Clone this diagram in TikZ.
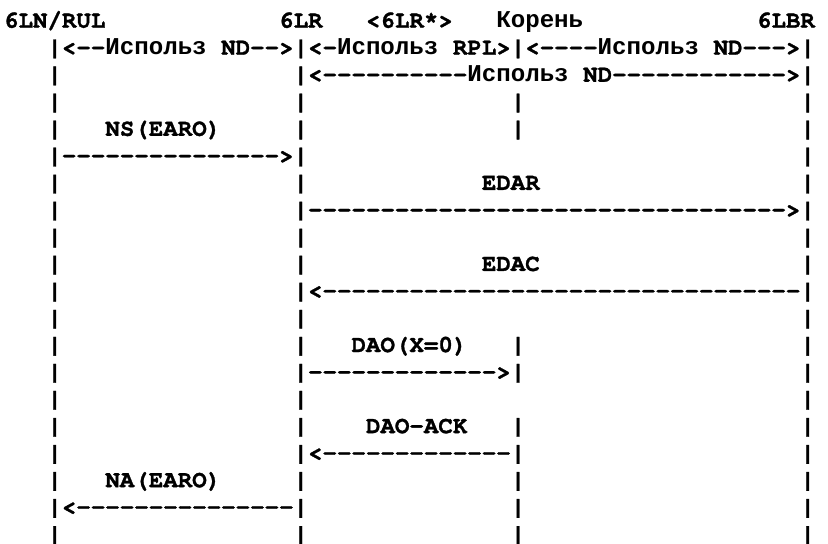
\documentclass[tikz,border=0pt]{standalone}
\usepackage{fontspec}
\newfontfamily\asciifont{TeX Gyre Cursor}[BoldFeatures={FakeBold=1.2}]
\newfontfamily\cyrfont{Liberation Mono}
\ExplSyntaxOn
\cs_new:Npn \dashrun #1 { \prg_replicate:nn {#1} {-} }
\ExplSyntaxOff
% Cyrillic words, set in a monospace face that has them
\newcommand\ru[1]{{\cyrfont\bfseries #1}}
% one text cell of the monospace grid: row, column, text
\newcommand\putcell[3]{\node[txt] (r#1c#2) at ({4+#2*14.48},{27.7+(#1-1)*27.03}) {#3};}
% a lifeline bar in a given row and column
\newcommand\lifebar[2]{\putcell{#1}{#2}{|}}
\begin{document}
\begin{tikzpicture}[x=0.75pt,y=-0.75pt,
  txt/.style={anchor=base west, inner sep=0pt, outer sep=0pt,
    font=\asciifont\bfseries\fontsize{18.1pt}{20pt}\selectfont}]
\fill[white] (0,0) rectangle (828,543);
\useasboundingbox (0,0) rectangle (828,543);

% header with the node names
\putcell{1}{0}{6LN/RUL}
\putcell{1}{19}{6LR}
\putcell{1}{25}{<6LR*>}
\putcell{1}{34}{\ru{Корень}}
\putcell{1}{52}{6LBR}

% scopes of the protocols
\putcell{2}{3}{|<--\ru{Использ} ND-->|<-\ru{Использ} RPL>|<----\ru{Использ} ND--->|}
\lifebar{3}{3}
\putcell{3}{20}{|<\dashrun{10}\ru{Использ} ND\dashrun{12}>|}

\lifebar{4}{3}\lifebar{4}{20}\lifebar{4}{35}\lifebar{4}{55}

% NS(EARO)
\lifebar{5}{3}\putcell{5}{7}{NS(EARO)}\lifebar{5}{20}\lifebar{5}{35}\lifebar{5}{55}
\putcell{6}{3}{|\dashrun{15}>|}\lifebar{6}{55}

% EDAR
\lifebar{7}{3}\lifebar{7}{20}\putcell{7}{33}{EDAR}\lifebar{7}{55}
\lifebar{8}{3}\putcell{8}{20}{|\dashrun{33}>|}
\lifebar{9}{3}\lifebar{9}{20}\lifebar{9}{55}

% EDAC
\lifebar{10}{3}\lifebar{10}{20}\putcell{10}{33}{EDAC}\lifebar{10}{55}
\lifebar{11}{3}\putcell{11}{20}{|<\dashrun{33}|}
\lifebar{12}{3}\lifebar{12}{20}\lifebar{12}{55}

% DAO(X=0)
\lifebar{13}{3}\lifebar{13}{20}\putcell{13}{24}{DAO(X=0)}\lifebar{13}{35}\lifebar{13}{55}
\lifebar{14}{3}\putcell{14}{20}{|\dashrun{13}>|}\lifebar{14}{55}
\lifebar{15}{3}\lifebar{15}{20}\lifebar{15}{55}

% DAO-ACK
\lifebar{16}{3}\lifebar{16}{20}\putcell{16}{25}{DAO-ACK}\lifebar{16}{35}\lifebar{16}{55}
\lifebar{17}{3}\putcell{17}{20}{|<\dashrun{13}|}\lifebar{17}{55}

% NA(EARO)
\lifebar{18}{3}\putcell{18}{7}{NA(EARO)}\lifebar{18}{20}\lifebar{18}{35}\lifebar{18}{55}
\putcell{19}{3}{|<\dashrun{15}|}\lifebar{19}{35}\lifebar{19}{55}
\lifebar{20}{3}\lifebar{20}{20}\lifebar{20}{35}\lifebar{20}{55}
\end{tikzpicture}
\end{document}
